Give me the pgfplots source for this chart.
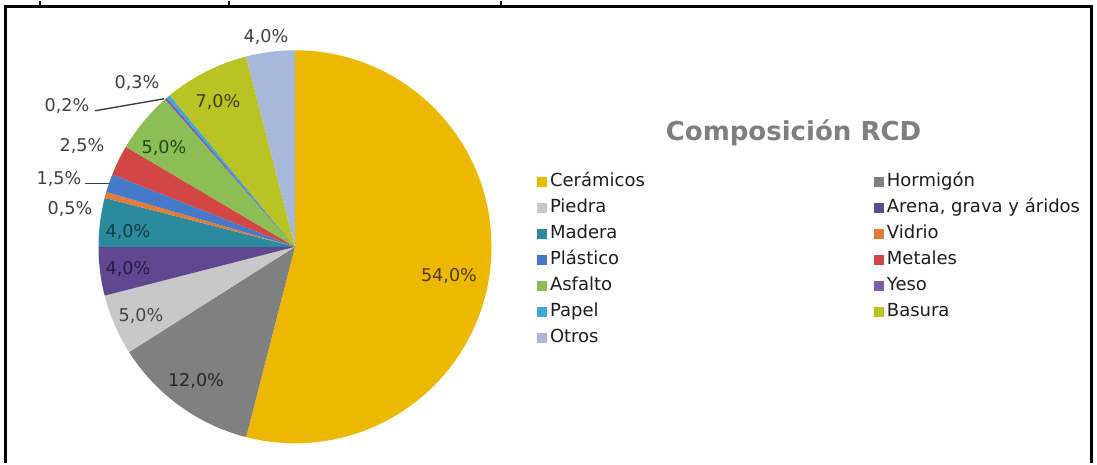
\documentclass[border=0pt]{standalone}
\usepackage{fontspec}
\setmainfont{DejaVu Sans}
\usepackage{pgfplots}
\usepackage{pgfplotstable}
\pgfplotsset{compat=1.18}

\definecolor{cCer}{RGB}{237,185,0}
\definecolor{cHor}{RGB}{128,128,128}
\definecolor{cPie}{RGB}{200,200,200}
\definecolor{cAre}{RGB}{96,72,145}
\definecolor{cMad}{RGB}{44,138,158}
\definecolor{cVid}{RGB}{226,125,55}
\definecolor{cPla}{RGB}{70,122,200}
\definecolor{cMet}{RGB}{210,70,70}
\definecolor{cAsf}{RGB}{140,190,85}
\definecolor{cYes}{RGB}{128,90,175}
\definecolor{cPap}{RGB}{60,170,210}
\definecolor{cBas}{RGB}{185,195,35}
\definecolor{cOtr}{RGB}{168,184,216}
\definecolor{tCer}{RGB}{80,60,0}
\definecolor{tHor}{RGB}{40,40,40}
\definecolor{tPie}{RGB}{70,70,70}
\definecolor{tAre}{RGB}{40,25,70}
\definecolor{tMad}{RGB}{15,60,75}
\definecolor{tAsf}{RGB}{40,70,20}
\definecolor{tBas}{RGB}{60,65,10}
\definecolor{tOut}{RGB}{64,64,64}
\definecolor{legtxt}{RGB}{30,30,30}
\definecolor{titlec}{RGB}{127,127,127}

% value (%), slice colour, label centre (px from left, px from top), label colour
\pgfplotstableread{
value fillc lx  ly  labc
54.0  cCer  449 275 tCer
12.0  cHor  196 380 tHor
5.0   cPie  141 315 tPie
4.0   cAre  128 268 tAre
4.0   cMad  128 231 tMad
0.5   cVid  70  208 tOut
1.5   cPla  59  178 tOut
2.5   cMet  82  145 tOut
5.0   cAsf  164 147 tAsf
0.2   cYes  67  105 tOut
0.3   cPap  137 82  tOut
7.0   cBas  218 101 tBas
4.0   cOtr  266 36  tOut
}\piedata

\begin{document}
\begin{tikzpicture}
\begin{axis}[
  width=548.5pt, height=231pt, scale only axis,
  xmin=0, xmax=1097, ymin=0, ymax=462,
  hide axis, clip=false,
  legend columns=2,
  legend image code/.code={\fill[#1, draw=none] (0pt,0pt) rectangle (5pt,5pt);},
  legend style={
    at={(axis cs:537,290)}, anchor=north west,
    draw=none, fill=none, inner sep=0pt, outer sep=0pt,
    font=\fontsize{9}{9}\selectfont, text=legtxt,
    nodes={inner sep=0pt, text height=7pt, text depth=2pt},
    cells={anchor=base west},
    row sep=4pt, column sep=1.5pt,
    /tikz/column 2/.style={column sep=114.5pt},
  },
]
\path (rel axis cs:0,0) rectangle (rel axis cs:1,1);

\gdef\cum{0}
\pgfplotsforeachungrouped \i in {0,...,12}{%
  \pgfplotstablegetelem{\i}{value}\of\piedata \let\v\pgfplotsretval
  \pgfplotstablegetelem{\i}{fillc}\of\piedata \let\fc\pgfplotsretval
  \pgfplotstablegetelem{\i}{lx}\of\piedata \let\lx\pgfplotsretval
  \pgfplotstablegetelem{\i}{ly}\of\piedata \let\ly\pgfplotsretval
  \pgfplotstablegetelem{\i}{labc}\of\piedata \let\lc\pgfplotsretval
  \pgfmathsetmacro\a{90-3.6*\cum}%
  \pgfmathsetmacro\b{90-3.6*(\cum+\v)}%
  \pgfmathsetmacro\newcum{\cum+\v}%
  \global\let\cum\newcum
  \pgfmathsetmacro\lyy{462-\ly}%
  \pgfmathprintnumberto[fixed, fixed zerofill, precision=1, use comma, assume math mode=true]{\v}{\lab}%
  \edef\temp{%
    \noexpand\fill[\fc] (axis cs:295,216) -- ([shift={(\a:98.25pt)}]axis cs:295,216)
      arc[start angle=\a, end angle=\b, radius=98.25pt] -- cycle;
  }\temp
  \edef\temp{%
    \noexpand\node[text=\lc, font=\noexpand\fontsize{8.8}{9}\noexpand\selectfont, inner sep=0pt]
      at (axis cs:\lx,\lyy) {\unexpanded\expandafter{\lab}\noexpand\%};
  }\temp
}

% leader lines
\draw[color=tOut, line width=0.7pt] (axis cs:85,279) -- (axis cs:110,279);
\draw[color=tOut, line width=0.7pt] (axis cs:95,352) -- (axis cs:164,364);

% title
\node[anchor=base, text=titlec, font=\fontsize{13}{13}\selectfont\bfseries]
  at (axis cs:793.5,322) {Composición RCD};

% frame
\draw[black, line width=1.5pt] (axis cs:5.5,0) -- (axis cs:5.5,456.5) -- (axis cs:1091.5,456.5) -- (axis cs:1091.5,0);
\draw[black, line width=0.8pt] (axis cs:40,457) -- (axis cs:40,462);
\draw[black, line width=0.8pt] (axis cs:229,457) -- (axis cs:229,462);
\draw[black, line width=0.8pt] (axis cs:501,457) -- (axis cs:501,462);

\addlegendimage{fill=cCer}\addlegendentry{Cerámicos}
\addlegendimage{fill=cHor}\addlegendentry{Hormigón}
\addlegendimage{fill=cPie}\addlegendentry{Piedra}
\addlegendimage{fill=cAre}\addlegendentry{Arena, grava y áridos}
\addlegendimage{fill=cMad}\addlegendentry{Madera}
\addlegendimage{fill=cVid}\addlegendentry{Vidrio}
\addlegendimage{fill=cPla}\addlegendentry{Plástico}
\addlegendimage{fill=cMet}\addlegendentry{Metales}
\addlegendimage{fill=cAsf}\addlegendentry{Asfalto}
\addlegendimage{fill=cYes}\addlegendentry{Yeso}
\addlegendimage{fill=cPap}\addlegendentry{Papel}
\addlegendimage{fill=cBas}\addlegendentry{Basura}
\addlegendimage{fill=cOtr}\addlegendentry{Otros}
\end{axis}
\end{tikzpicture}
\end{document}
